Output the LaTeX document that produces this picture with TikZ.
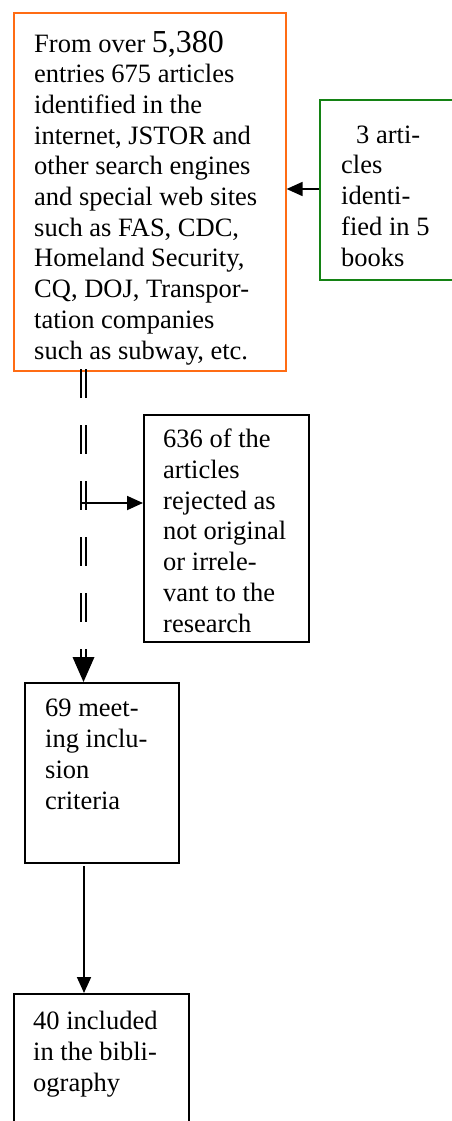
\documentclass[tikz,border=0pt]{standalone}
\usepackage{fontspec}
\setmainfont{Liberation Serif}
\usetikzlibrary{arrows.meta}
\definecolor{boxorange}{RGB}{255,108,20}
\definecolor{boxgreen}{RGB}{20,130,20}
\begin{document}
\begin{tikzpicture}[x=1pt,y=-1pt,
  box/.style={draw,line width=1.6pt,inner sep=0pt,anchor=north west},
  txt/.style={anchor=base west,align=left,inner sep=0pt,font=\fontsize{26.5}{30.7}\selectfont},
  conn/.style={line width=1.8pt,-{Triangle[length=16pt,width=14pt]}},
  dbl/.style={line width=1.6pt,dash pattern=on 29pt off 27pt}
]
\useasboundingbox (0,0) rectangle (451,1121);
% boxes
\node[box,draw=boxorange,minimum width=272pt,minimum height=358pt] (src) at (13,12) {};
\node[box,draw=boxgreen,minimum width=150pt,minimum height=180pt] (books) at (319,99) {};
\node[box,minimum width=165pt,minimum height=227pt] (rej) at (143,414) {};
\node[box,minimum width=154pt,minimum height=180pt] (meet) at (24,682) {};
\node[box,minimum width=175pt,minimum height=160pt] (incl) at (13,993) {};
% texts (anchored at the baseline of the last line)
\node[txt] (srct) at (34,359) {From over {\fontsize{32}{30.7}\selectfont 5,380}\\entries 675 articles\\identified in the\\internet, JSTOR and\\other search engines\\and special web sites\\such as FAS, CDC,\\Homeland Security,\\CQ, DOJ, Transpor-\\tation companies\\such as subway, etc.};
\node[txt] (bookst) at (341,266) {\hspace{15pt}3 arti-\\cles\\identi-\\fied in 5\\books};
\node[txt] (rejt) at (163,632) {636 of the\\articles\\rejected as\\not original\\or irrele-\\vant to the\\research};
\node[txt] (meett) at (45,809) {69 meet-\\ing inclu-\\sion\\criteria};
\node[txt] (inclt) at (33,1091) {40 included\\in the bibli-\\ography};
% coordinates
\coordinate (dA) at (81,369);
\coordinate (dB) at (86,369);
\coordinate (dA2) at (81,657);
\coordinate (dB2) at (86,657);
\coordinate (tip) at (83.5,682);
\coordinate (branch) at (81,503);
\coordinate (rejin) at (rej.west |- branch);
\coordinate (bookout) at (books.west |- 0,189);
\coordinate (srcin) at (src.east |- 0,189);
\coordinate (m1) at (84,866);
\coordinate (m2) at (84,993);
% connectors
\draw[conn] (bookout) -- (srcin);
\draw[dbl] (dA) -- (dA2);
\draw[dbl] (dB) -- (dB2);
\draw[line width=1.6pt] (81,650) -- (dA2) (86,650) -- (dB2);
\fill (72.5,657) -- (94.5,657) -- (tip) -- cycle;
\draw[conn] (branch) -- (rejin);
\draw[conn] (m1) -- (m2);
\end{tikzpicture}
\end{document}
